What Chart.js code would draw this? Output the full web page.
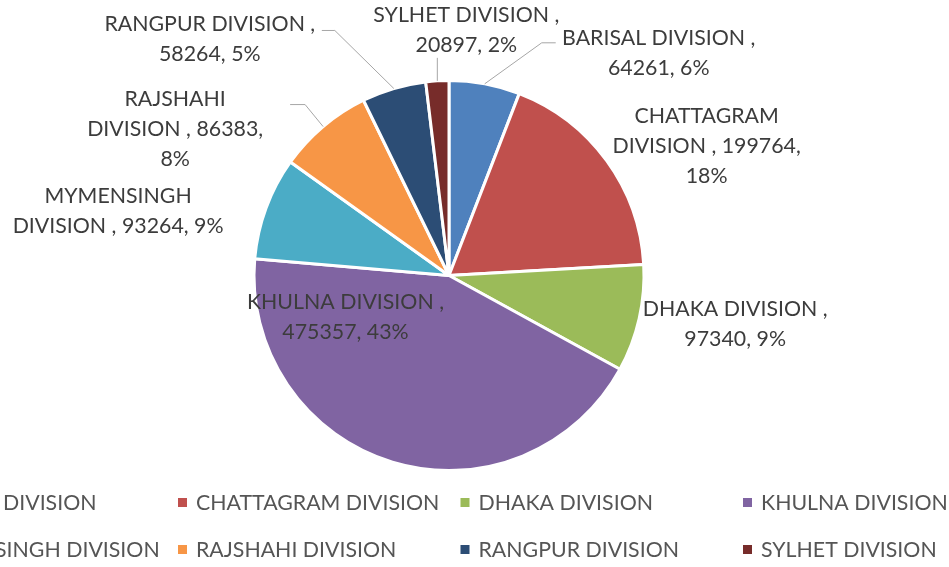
<!DOCTYPE html>
<html>
<head>
<meta charset="utf-8">
<script src="https://cdn.jsdelivr.net/npm/chart.js@4/dist/chart.umd.min.js"></script>
<style>
html,body{margin:0;padding:0;background:#fff;overflow:hidden}
#wrap{position:relative;width:949px;height:567px}
</style>
</head>
<body>
<div id="wrap"><canvas id="c"></canvas></div>
<script>
// ---- data ----
const categories = ['BARISAL DIVISION','CHATTAGRAM DIVISION','DHAKA DIVISION','KHULNA DIVISION','MYMENSINGH DIVISION','RAJSHAHI DIVISION','RANGPUR DIVISION','SYLHET DIVISION'];
const values = [64261,199764,97340,475357,93264,86383,58264,20897];

// ---- styles / layout ----
const colors = ['#4F81BD','#C0504D','#9BBB59','#8064A2','#4BACC6','#F79646','#2C4D75','#772C2A'];
const FONT = '22px Lato, "Open Sans", sans-serif';
const LABEL_COLOR = '#3c3c3c';
const LEGEND_COLOR = '#555555';
const LINE_COLOR = '#A6A6A6';
// how many words go on each line of each data label
const labelBreaks = [[3,2],[1,3,1],[3,2],[3,2],[1,4],[1,3,1],[3,2],[3,2]];
// label block centre, relative to the slice's outer mid point
const labelOffsets = [[174,-32],[100,-16],[96,4],[-47,-146],[-148,2],[-148,1],[-184,-50],[29,-52]];
// leader line bend points, relative to the slice's outer mid point
const leaderLines = [[[57,-41],[71,-41]], null, null, null, null, [[-18,-22],[-33,-22]], [[-59,-58],[-72,-58]], [[0,-23]]];
const LEGEND = {firstX:-104.5, colW:282.5, rows:[502.5,549.5], cols:4, box:9, textGap:18};

function squeezeFactor(ctx){
  ctx.font = FONT;
  return 186 / ctx.measureText('SYLHET DIVISION ,').width;
}
function drawText(ctx, text, x, y, sx, align){
  ctx.save();
  ctx.translate(x, y);
  ctx.scale(sx, 1);
  ctx.textAlign = align;
  ctx.textBaseline = 'alphabetic';
  ctx.fillText(text, 0, 0);
  ctx.restore();
}

const labelPlugin = {
  id: 'pieLabels',
  afterDatasetsDraw(chart){
    const ctx = chart.ctx;
    const meta = chart.getDatasetMeta(0);
    const total = values.reduce((a,b)=>a+b,0);
    ctx.save();
    const sx = squeezeFactor(ctx);
    ctx.font = FONT;
    meta.data.forEach((arc, i) => {
      const p = arc.getProps(['x','y','startAngle','endAngle','outerRadius'], true);
      const mid = (p.startAngle + p.endAngle) / 2;
      const ex = p.x + Math.cos(mid) * p.outerRadius;
      const ey = p.y + Math.sin(mid) * p.outerRadius;
      const ll = leaderLines[i];
      if (ll){
        ctx.beginPath();
        ctx.strokeStyle = LINE_COLOR;
        ctx.lineWidth = 1;
        ctx.moveTo(ex, ey);
        ll.forEach(pt => ctx.lineTo(ex + pt[0], ey + pt[1]));
        ctx.stroke();
      }
      const pct = Math.round(values[i] / total * 100) + '%';
      const tokens = (categories[i] + ' , ' + values[i] + ', ' + pct).split(' ');
      const lines = [];
      let k = 0;
      labelBreaks[i].forEach(n => { lines.push(tokens.slice(k, k+n).join(' ')); k += n; });
      const cx = ex + labelOffsets[i][0];
      const cy = ey + labelOffsets[i][1];
      ctx.fillStyle = LABEL_COLOR;
      lines.forEach((ln, j) => {
        const by = cy - (lines.length - 1) * 15 + j * 30 + 8;
        drawText(ctx, ln, cx, by, sx, 'center');
      });
    });
    ctx.restore();
  },
  afterDraw(chart){
    const ctx = chart.ctx;
    ctx.save();
    const sx = squeezeFactor(ctx);
    ctx.font = FONT;
    categories.forEach((c, i) => {
      const col = i % LEGEND.cols, row = Math.floor(i / LEGEND.cols);
      const x = LEGEND.firstX + col * LEGEND.colW;
      const yc = LEGEND.rows[row];
      ctx.fillStyle = colors[i];
      ctx.fillRect(x, yc - LEGEND.box/2, LEGEND.box, LEGEND.box);
      ctx.fillStyle = LEGEND_COLOR;
      drawText(ctx, c, x + LEGEND.textGap, yc + 7.5, sx, 'left');
    });
    ctx.restore();
  }
};

new Chart(document.getElementById('c'), {
  type: 'pie',
  data: {
    labels: categories,
    datasets: [{
      data: values,
      backgroundColor: colors,
      borderColor: '#ffffff',
      borderWidth: 3
    }]
  },
  options: {
    responsive: true,
    maintainAspectRatio: false,
    animation: false,
    layout: { padding: { left: 252, right: 303, top: 79, bottom: 95 } },
    plugins: { legend: { display: false }, tooltip: { enabled: false } }
  },
  plugins: [labelPlugin]
});
</script>
</body>
</html>
